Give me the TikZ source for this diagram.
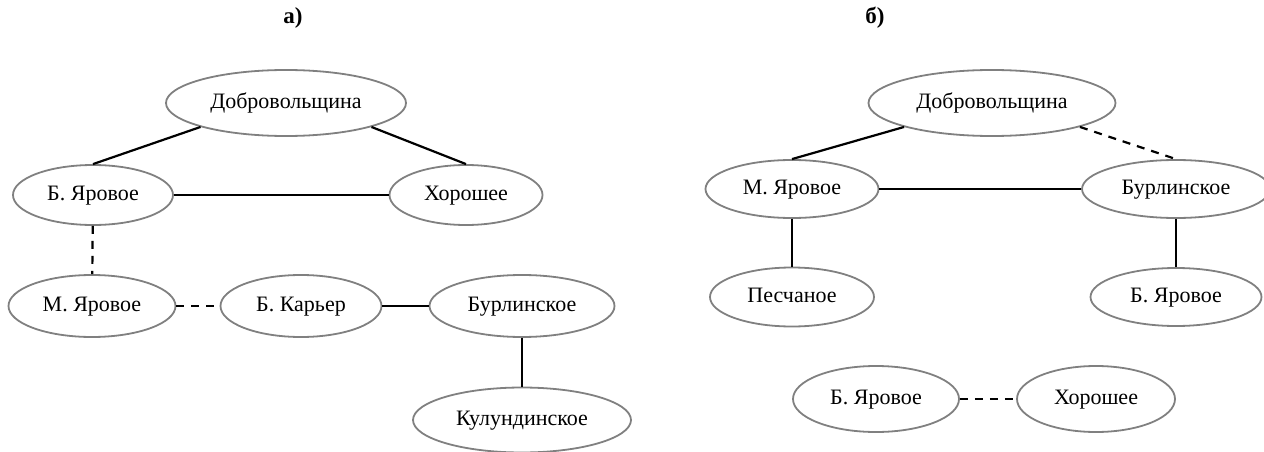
\documentclass[tikz,border=0pt]{standalone}
\usepackage{fontspec}
\setmainfont{Liberation Serif}
\usetikzlibrary{shapes.geometric,scopes}

\begin{document}
\begin{tikzpicture}[
    x=1pt, y=-1pt,
    town/.style={ellipse,draw=gray,line width=1.8pt,inner sep=0pt,minimum height=60pt,text height=14pt,text depth=4pt,font=\fontsize{22}{26}\selectfont},
    road/.style={draw=black,line width=2.2pt},
    plan/.style={road,dash pattern=on 8pt off 7pt},
    caption/.style={font=\fontsize{23}{27}\selectfont\bfseries},
]
\useasboundingbox (0,0) rectangle (1264,452);

\node[caption] (capA) at (293,18) {а)};
\node[town,minimum width=240pt,minimum height=66pt] (dobrA) at (286,103) {Добровольщина};
\node[town,minimum width=160pt] (byA) at (93,195) {Б. Яровое};
\node[town,minimum width=153pt] (horA) at (466,195) {Хорошее};
\node[town,minimum width=167pt,minimum height=62pt] (myA) at (92,306) {М. Яровое};
\node[town,minimum width=161pt,minimum height=62pt] (kar) at (301,306) {Б. Карьер};
\node[town,minimum width=185pt,minimum height=62pt] (burA) at (522,306) {Бурлинское};
\node[town,minimum width=218pt,minimum height=65pt] (kul) at (522,420) {Кулундинское};

\node[caption] (capB) at (875,18) {б)};
\node[town,minimum width=247pt,minimum height=66pt] (dobrB) at (992,103) {Добровольщина};
\node[town,minimum width=173pt,minimum height=58pt] (myB) at (792,189) {М. Яровое};
\node[town,minimum width=188pt,minimum height=58pt] (burB) at (1176,189) {Бурлинское};
\node[town,minimum width=164pt,minimum height=59pt] (pes) at (792,297) {Песчаное};
\node[town,minimum width=171pt,minimum height=58pt] (byB) at (1176,297) {Б. Яровое};
\node[town,minimum width=166pt,minimum height=66pt] (byC) at (876,399) {Б. Яровое};
\node[town,minimum width=158pt,minimum height=66pt] (horC) at (1096,399) {Хорошее};

{[road]
    \draw (dobrA.south west) -- (byA.north);
    \draw (dobrA.south east) -- (horA.north);
    \draw (byA) -- (horA);
    \draw (kar) -- (burA);
    \draw (burA) -- (kul);
    \draw (dobrB.south west) -- (myB.north);
    \draw (myB) -- (burB);
    \draw (myB) -- (pes);
    \draw (burB) -- (byB);
}
{[plan]
    \draw (byA) -- (myA);
    \draw (myA) -- (kar);
    \draw (dobrB.south east) -- (burB.north);
    \draw (byC) -- (horC);
}
\end{tikzpicture}
\end{document}
